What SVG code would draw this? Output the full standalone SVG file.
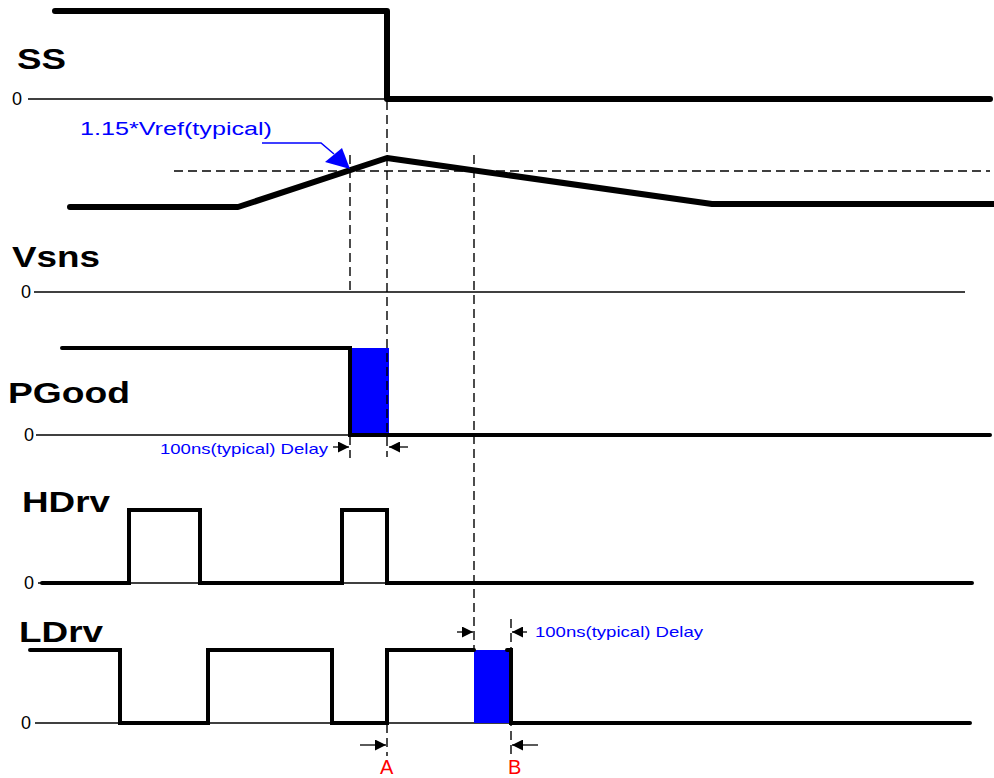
<svg xmlns="http://www.w3.org/2000/svg" width="994" height="778" viewBox="0 0 994 778">
<defs>
<style>
.lbl{font-family:"Liberation Sans",Arial,sans-serif;font-weight:bold;font-size:29px;fill:#000}
.zero{font-family:"Liberation Sans",Arial,sans-serif;font-size:18px;fill:#000}
.note{font-family:"Liberation Sans",Arial,sans-serif;font-size:15px;fill:#0000ff}
.ab{font-family:"Liberation Sans",Arial,sans-serif;font-size:20px;fill:#ff0000}
.sig{fill:none;stroke:#000;stroke-width:4;stroke-linejoin:miter;stroke-linecap:round}
.thick{fill:none;stroke:#000;stroke-width:6;stroke-linejoin:round;stroke-linecap:round}
.base{fill:none;stroke:#000;stroke-width:1.4}
.dash{fill:none;stroke:#000;stroke-width:1.4;stroke-dasharray:9 5}
.dim{fill:none;stroke:#000;stroke-width:1.3;marker-end:url(#ah)}
.blk{fill:#0000ff;stroke:none}
</style>
<marker id="ah" viewBox="0 0 10 10" refX="10" refY="5" markerWidth="11" markerHeight="11" markerUnits="userSpaceOnUse" orient="auto">
<path d="M0,0 L10,5 L0,10 Z" fill="#000"/>
</marker>
</defs>
<rect width="994" height="778" fill="#fff"/>

<g id="SS">
<text class="lbl" x="17" y="69" textLength="49" lengthAdjust="spacingAndGlyphs">SS</text>
<text class="zero" x="12" y="105">0</text>
<line class="base" x1="28" y1="99" x2="387" y2="99"/>
<path class="thick" d="M55,11 H387 V99 H990"/>
</g>

<g id="Vsns">
<text class="lbl" x="12" y="267" textLength="88" lengthAdjust="spacingAndGlyphs">Vsns</text>
<text class="zero" x="21" y="298">0</text>
<line class="base" x1="34" y1="292" x2="965" y2="292"/>
<path class="thick" d="M70,207 H238 L387,158 L712,204 H994"/>
<line class="dash" x1="174" y1="171" x2="990" y2="171"/>
<text class="note" x="80" y="135" textLength="192" lengthAdjust="spacingAndGlyphs" style="font-size:18px">1.15*Vref(typical)</text>
<path d="M262,143 H321 L334,154" fill="none" stroke="#0000ff" stroke-width="1.5"/>
<polygon points="350,169 325,162 342,148" fill="#0000ff"/>
</g>

<g id="PGood">
<text class="lbl" x="8" y="403" textLength="122" lengthAdjust="spacingAndGlyphs">PGood</text>
<text class="zero" x="24" y="441">0</text>
<line class="base" x1="36" y1="435" x2="350" y2="435"/>
<rect class="blk" x="352" y="348" width="37" height="87"/>
<path class="sig" d="M62,348 H350 V435 H990"/>
<text class="note" x="160" y="454" textLength="168" lengthAdjust="spacingAndGlyphs">100ns(typical) Delay</text>
</g>

<g id="HDrv">
<text class="lbl" x="22" y="512" textLength="88" lengthAdjust="spacingAndGlyphs">HDrv</text>
<text class="zero" x="24" y="589">0</text>
<line class="base" x1="38" y1="583" x2="972" y2="583"/>
<path class="sig" d="M42,583 H129 V510 H200 V583 H342 V510 H387 V583 H972"/>
</g>

<g id="LDrv">
<text class="lbl" x="19" y="642" textLength="84" lengthAdjust="spacingAndGlyphs">LDrv</text>
<text class="zero" x="21" y="729">0</text>
<line class="base" x1="35" y1="723" x2="970" y2="723"/>
<rect class="blk" x="474" y="650" width="37" height="73"/>
<path class="sig" d="M30,650 H120 V723 H208 V650 H332 V723 H387 V650 H474"/>
<path class="sig" d="M507,650 H511 V723 H970"/>
<text class="note" x="535" y="637" textLength="168" lengthAdjust="spacingAndGlyphs">100ns(typical) Delay</text>
<text class="ab" x="380" y="774">A</text>
<text class="ab" x="508" y="774">B</text>
</g>

<g id="connectors">
<line class="dash" x1="387" y1="101" x2="387" y2="457"/>
<line class="dash" x1="350" y1="155" x2="350" y2="292"/>
<line class="dash" x1="350" y1="436" x2="350" y2="458"/>
<line class="dash" x1="474" y1="155" x2="474" y2="650"/>
<line class="dash" x1="511" y1="619" x2="511" y2="757"/>
<line class="dash" x1="387" y1="724" x2="387" y2="756"/>
<line class="dim" x1="333" y1="447" x2="349" y2="447"/>
<line class="dim" x1="408" y1="447" x2="389" y2="447"/>
<line class="dim" x1="457" y1="632" x2="473" y2="632"/>
<line class="dim" x1="527" y1="632" x2="512" y2="632"/>
<line class="dim" x1="360" y1="745" x2="386" y2="745"/>
<line class="dim" x1="538" y1="745" x2="512" y2="745"/>
</g>
</svg>
